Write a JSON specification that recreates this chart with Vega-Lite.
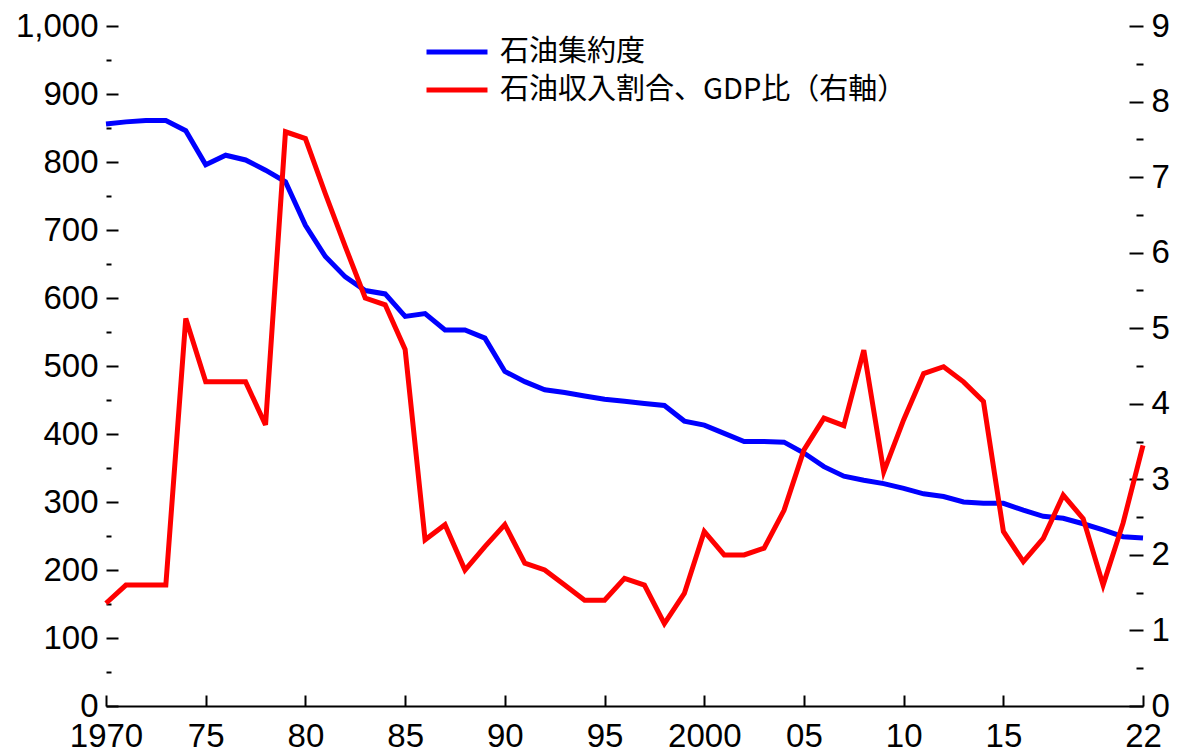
{
  "$schema": "https://vega.github.io/schema/vega-lite/v6.json",
  "autosize": "none",
  "width": 1037,
  "height": 680,
  "padding": {"left": 106, "top": 26, "right": 53, "bottom": 46},
  "background": "white",
  "config": {
    "view": {"stroke": null},
    "axis": {
      "grid": false,
      "labelFont": "Liberation Sans Narrow, Arial Narrow, Liberation Sans",
      "labelFontSize": 33,
      "labelColor": "black",
      "tickColor": "black",
      "tickWidth": 2,
      "domainColor": "black",
      "labelOverlap": false,
      "labelBound": false,
      "labelFlush": false,
      "title": null
    }
  },
  "data": {
    "values": [
      {"year": 1970, "intensity": 856, "revenue": 1.36},
      {"year": 1971, "intensity": 859, "revenue": 1.6},
      {"year": 1972, "intensity": 861, "revenue": 1.6},
      {"year": 1973, "intensity": 861, "revenue": 1.6},
      {"year": 1974, "intensity": 846, "revenue": 5.13},
      {"year": 1975, "intensity": 796, "revenue": 4.29},
      {"year": 1976, "intensity": 810, "revenue": 4.29},
      {"year": 1977, "intensity": 803, "revenue": 4.29},
      {"year": 1978, "intensity": 788, "revenue": 3.72},
      {"year": 1979, "intensity": 771, "revenue": 7.6},
      {"year": 1980, "intensity": 707, "revenue": 7.51},
      {"year": 1981, "intensity": 661, "revenue": 6.78},
      {"year": 1982, "intensity": 631, "revenue": 6.08},
      {"year": 1983, "intensity": 611, "revenue": 5.4},
      {"year": 1984, "intensity": 606, "revenue": 5.31},
      {"year": 1985, "intensity": 573, "revenue": 4.72},
      {"year": 1986, "intensity": 577, "revenue": 2.2},
      {"year": 1987, "intensity": 553, "revenue": 2.4},
      {"year": 1988, "intensity": 553, "revenue": 1.8},
      {"year": 1989, "intensity": 541, "revenue": 2.11},
      {"year": 1990, "intensity": 492, "revenue": 2.4},
      {"year": 1991, "intensity": 477, "revenue": 1.89},
      {"year": 1992, "intensity": 465, "revenue": 1.8},
      {"year": 1993, "intensity": 461, "revenue": 1.6},
      {"year": 1994, "intensity": 456, "revenue": 1.4},
      {"year": 1995, "intensity": 451, "revenue": 1.4},
      {"year": 1996, "intensity": 448, "revenue": 1.69},
      {"year": 1997, "intensity": 445, "revenue": 1.6},
      {"year": 1998, "intensity": 442, "revenue": 1.09},
      {"year": 1999, "intensity": 419, "revenue": 1.49},
      {"year": 2000, "intensity": 413, "revenue": 2.31},
      {"year": 2001, "intensity": 401, "revenue": 2.0},
      {"year": 2002, "intensity": 389, "revenue": 2.0},
      {"year": 2003, "intensity": 389, "revenue": 2.09},
      {"year": 2004, "intensity": 388, "revenue": 2.59},
      {"year": 2005, "intensity": 372, "revenue": 3.39},
      {"year": 2006, "intensity": 352, "revenue": 3.81},
      {"year": 2007, "intensity": 338, "revenue": 3.71},
      {"year": 2008, "intensity": 332, "revenue": 4.71},
      {"year": 2009, "intensity": 327, "revenue": 3.1},
      {"year": 2010, "intensity": 320, "revenue": 3.79},
      {"year": 2011, "intensity": 312, "revenue": 4.4},
      {"year": 2012, "intensity": 308, "revenue": 4.49},
      {"year": 2013, "intensity": 300, "revenue": 4.29},
      {"year": 2014, "intensity": 298, "revenue": 4.03},
      {"year": 2015, "intensity": 298, "revenue": 2.31},
      {"year": 2016, "intensity": 288, "revenue": 1.91},
      {"year": 2017, "intensity": 279, "revenue": 2.22},
      {"year": 2018, "intensity": 276, "revenue": 2.79},
      {"year": 2019, "intensity": 268, "revenue": 2.48},
      {"year": 2020, "intensity": 259, "revenue": 1.6},
      {"year": 2021, "intensity": 249, "revenue": 2.42},
      {"year": 2022, "intensity": 247, "revenue": 3.45}
    ]
  },
  "encoding": {
    "x": {
      "field": "year",
      "type": "quantitative",
      "scale": {"domain": [1970, 2022], "nice": false, "zero": false},
      "axis": {
        "values": [1970, 1975, 1980, 1985, 1990, 1995, 2000, 2005, 2010, 2015, 2022],
        "labelExpr": "datum.value === 1970 || datum.value === 2000 ? toString(datum.value) : substring(toString(datum.value), 2, 4)",
        "domainWidth": 2,
        "tickSize": -11,
        "labelPadding": 25,
        "labelAlign": "center"
      }
    }
  },
  "layer": [
    {
      "mark": {"type": "line", "strokeWidth": 5, "color": "#0000ff"},
      "encoding": {
        "y": {
          "field": "intensity",
          "type": "quantitative",
          "scale": {"domain": [0, 1000], "nice": false},
          "axis": {
            "orient": "left",
            "domain": false,
            "values": [0, 50, 100, 150, 200, 250, 300, 350, 400, 450, 500, 550, 600, 650, 700, 750, 800, 850, 900, 950, 1000],
            "labelExpr": "datum.value % 100 === 0 ? format(datum.value, ',') : ''",
            "tickSize": {"condition": {"test": "datum.value % 100 === 0", "value": -12}, "value": -5},
            "labelPadding": 20,
            "labelBaseline": "middle"
          }
        },
        "color": {
          "datum": "石油集約度",
          "type": "nominal",
          "scale": {"domain": ["石油集約度", "石油収入割合、GDP比（右軸）"], "range": ["#0000ff", "#ff0000"]},
          "legend": {
            "orient": "none",
            "legendX": 333,
            "legendY": 8,
            "title": null,
            "padding": 0,
            "symbolType": "M-2,0H2",
            "symbolSize": 930,
            "symbolStrokeWidth": 5,
            "labelFont": "Noto Sans CJK JP",
            "labelFontSize": 29,
            "labelColor": "black",
            "labelOffset": 25,
            "rowPadding": 5,
            "labelLimit": 800
          }
        }
      }
    },
    {
      "mark": {"type": "line", "strokeWidth": 5, "color": "#ff0000"},
      "encoding": {
        "y": {
          "field": "revenue",
          "type": "quantitative",
          "scale": {"domain": [0, 9], "nice": false},
          "axis": {
            "orient": "right",
            "domain": false,
            "values": [0, 0.5, 1, 1.5, 2, 2.5, 3, 3.5, 4, 4.5, 5, 5.5, 6, 6.5, 7, 7.5, 8, 8.5, 9],
            "labelExpr": "datum.value % 1 === 0 ? format(datum.value, 'd') : ''",
            "tickSize": {"condition": {"test": "datum.value % 1 === 0", "value": -14}, "value": -7},
            "labelPadding": 22,
            "labelBaseline": "middle"
          }
        },
        "color": {"datum": "石油収入割合、GDP比（右軸）", "type": "nominal"}
      }
    }
  ],
  "resolve": {"scale": {"y": "independent"}}
}
